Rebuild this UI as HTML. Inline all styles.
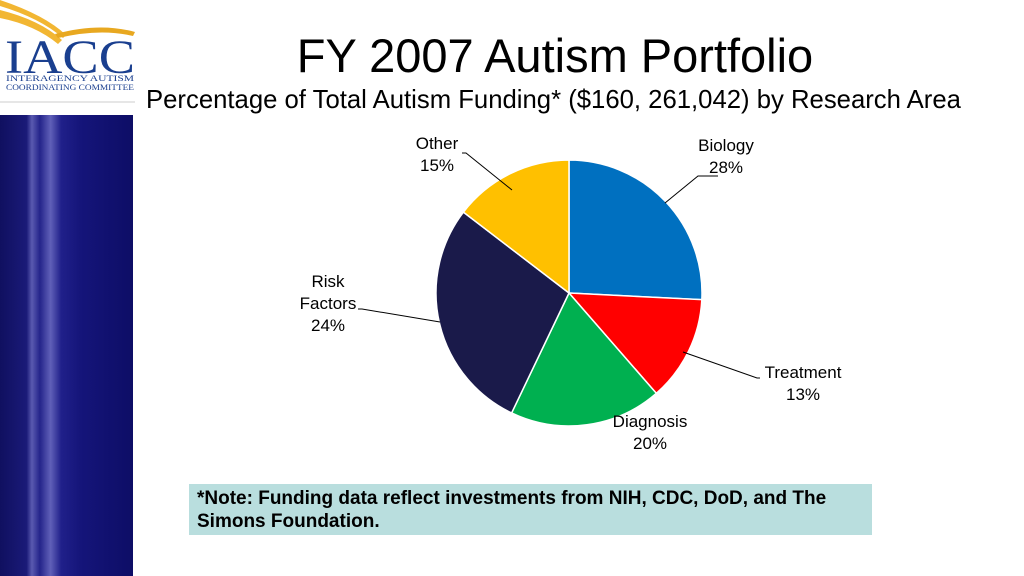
<!DOCTYPE html>
<html><head><meta charset="utf-8"><style>
body{margin:0;width:1024px;height:576px;background:#fff;position:relative;overflow:hidden;font-family:"Liberation Sans",sans-serif}
.abs{position:absolute}
</style></head><body>
<div class="abs" style="left:0;top:0;width:140px;height:105px">
<svg width="140" height="105">
<path d="M0 10 Q40 20 62 40 L58 44 Q35 25 0 18Z" fill="#f2b632"/>
<path d="M0 0 Q45 15 66 35 L63 38 Q40 18 0 6Z" fill="#f2b632"/>
<path d="M55 34 Q100 22 135 32 L133 36 Q100 28 58 38Z" fill="#e8a820"/>
<text x="5" y="73" font-family="Liberation Serif" font-size="48" fill="#1a3f8f" textLength="130" lengthAdjust="spacingAndGlyphs">IACC</text>
<text x="6" y="81" font-family="Liberation Serif" font-size="8.5" fill="#1a3f8f" textLength="128" lengthAdjust="spacingAndGlyphs">INTERAGENCY AUTISM</text>
<text x="6" y="90" font-family="Liberation Serif" font-size="8" fill="#1a3f8f" textLength="128" lengthAdjust="spacingAndGlyphs">COORDINATING COMMITTEE</text>
<line x1="0" y1="102" x2="135" y2="102" stroke="#ccc"/>
</svg></div>
<div class="abs" style="left:0;top:115px;width:133px;height:461px;background:linear-gradient(90deg,#101060 0%,#1a1a78 20%,#5a5ab0 24%,#24248a 30%,#6060b8 38%,#20208a 46%,#15157a 60%,#0d0d66 100%)"></div>
<div class="abs" style="left:255px;top:28px;width:600px;text-align:center;font-size:47px;color:#000">FY 2007 Autism Portfolio</div>
<div class="abs" style="left:146px;top:86px;font-size:25.7px;color:#000;white-space:nowrap">Percentage of Total Autism Funding* ($160, 261,042) by Research Area</div>
<svg class="abs" style="left:0;top:0" width="1024" height="576" id="pie"></svg>
<div class="abs" style="left:189px;top:484px;width:668px;height:44px;padding:3px 7px 4px 8px;background:#b9dede;font-weight:bold;font-size:19px;line-height:23px;color:#000;white-space:nowrap">*Note: Funding data reflect investments from NIH, CDC, DoD, and The<br>Simons Foundation.</div>
<script>
const categories=["Biology","Treatment","Diagnosis","Risk Factors","Other"];
const shares=[25.8,12.8,18.5,28.3,14.6];
const labels=["28%","13%","20%","24%","15%"];
const colors=["#0070c0","#ff0000","#00b050","#1a1a4a","#ffc000"];
const svg=document.getElementById('pie');
const NS="http://www.w3.org/2000/svg";
const cx=569,cy=293,r=133;
const total=shares.reduce((a,b)=>a+b,0);
function pt(a,rr){return [cx+rr*Math.sin(a),cy-rr*Math.cos(a)];}
let a0=0;
const labelPos=[[726,151,["Biology","28%"]],[803,378,["Treatment","13%"]],[650,427,["Diagnosis","20%"]],[328,287,["Risk","Factors","24%"]],[437,149,["Other","15%"]]];
const leaders=[[665,203,698,176,718,176],[683,352,757,378,760,378],null,[440,322,362,309,358,309],[512,190,466,153,462,153]];
shares.forEach((v,i)=>{
 const a1=a0+v/total*2*Math.PI;
 const p0=pt(a0,r),p1=pt(a1,r);
 const p=document.createElementNS(NS,'path');
 p.setAttribute('d',`M${cx},${cy}L${p0[0]},${p0[1]}A${r},${r} 0 ${a1-a0>Math.PI?1:0} 1 ${p1[0]},${p1[1]}Z`);
 p.setAttribute('fill',colors[i]);p.setAttribute('stroke','#fff');p.setAttribute('stroke-width','1.5');
 
 
 svg.appendChild(p);
 a0=a1;
});
labelPos.forEach((lp,i)=>{
 const lines=lp[2].slice(0,-1).concat([labels[i]]);
 const t=document.createElementNS(NS,'text');
 t.setAttribute('text-anchor','middle');t.setAttribute('font-size','17');
 
 
 lines.forEach((s,j)=>{const ts=document.createElementNS(NS,'tspan');ts.setAttribute('x',lp[0]);ts.setAttribute('y',lp[1]+j*22);ts.textContent=s;t.appendChild(ts);});
 svg.appendChild(t);
 const l=leaders[i];
 if(l){const pl=document.createElementNS(NS,'polyline');pl.setAttribute('points',`${l[0]},${l[1]} ${l[2]},${l[3]} ${l[4]},${l[5]}`);pl.setAttribute('fill','none');pl.setAttribute('stroke','#000');pl.setAttribute('stroke-width','1');
 
 
 svg.appendChild(pl);}
});
</script>
</body></html>
